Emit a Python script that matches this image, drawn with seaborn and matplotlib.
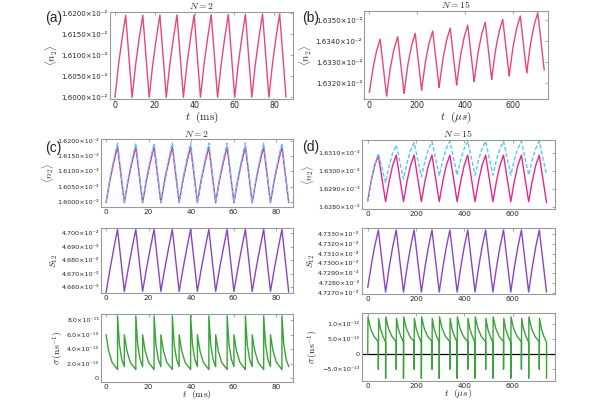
import matplotlib
matplotlib.use('Agg')
import matplotlib.pyplot as plt
import seaborn as sns

sns.set_style('white')
plt.rcParams['font.family'] = ['DejaVu Sans']
plt.rcParams['mathtext.fontset'] = 'cm'

## Data
# N = 2, time in ms; trough -> two rise points -> peak, per cycle
t_n2 = [0.0, 1.8, 3.6, 5.4,
        8.6, 10.4, 12.2, 14.0,
        17.2, 19.0, 20.8, 22.6,
        25.8, 27.6, 29.4, 31.2,
        34.4, 36.2, 38.0, 39.8,
        43.0, 44.8, 46.6, 48.4,
        51.6, 53.4, 55.2, 57.0,
        60.2, 62.0, 63.8, 65.6,
        68.8, 70.6, 72.4, 74.2,
        77.4, 79.2, 81.0, 82.8,
        86.0]
# <n2> in units of 1e-2
n2_a = [1.59998, 1.60781, 1.61407, 1.61955,
        1.59998, 1.60782, 1.61409, 1.61958,
        1.59999, 1.60784, 1.61412, 1.61962,
        1.60000, 1.60786, 1.61415, 1.61965,
        1.60001, 1.60788, 1.61417, 1.61968,
        1.60002, 1.60790, 1.61420, 1.61972,
        1.60002, 1.60792, 1.61423, 1.61976,
        1.60003, 1.60794, 1.61426, 1.61980,
        1.60004, 1.60796, 1.61430, 1.61985,
        1.60004, 1.60799, 1.61435, 1.61992,
        1.60005]
n2_c_solid = [1.59970, 1.60704, 1.61291, 1.61805,
              1.59970, 1.60704, 1.61291, 1.61805,
              1.59970, 1.60704, 1.61291, 1.61805,
              1.59970, 1.60704, 1.61291, 1.61805,
              1.59970, 1.60704, 1.61291, 1.61805,
              1.59970, 1.60704, 1.61291, 1.61805,
              1.59970, 1.60704, 1.61291, 1.61805,
              1.59970, 1.60704, 1.61291, 1.61805,
              1.59970, 1.60704, 1.61291, 1.61805,
              1.59970, 1.60704, 1.61291, 1.61805,
              1.59970]
n2_c_dash = [1.59990, 1.60764, 1.61383, 1.61925,
             1.59990, 1.60764, 1.61383, 1.61925,
             1.59990, 1.60764, 1.61383, 1.61925,
             1.59990, 1.60764, 1.61383, 1.61925,
             1.59990, 1.60764, 1.61383, 1.61925,
             1.59990, 1.60764, 1.61383, 1.61925,
             1.59990, 1.60764, 1.61383, 1.61925,
             1.59990, 1.60764, 1.61383, 1.61925,
             1.59990, 1.60764, 1.61383, 1.61925,
             1.59990, 1.60764, 1.61383, 1.61925,
             1.59990]
# S12 in units of 1e-2
s12_c = [4.6558, 4.6728, 4.6884, 4.7030,
         4.6567, 4.6734, 4.6886, 4.7030,
         4.6567, 4.6734, 4.6886, 4.7030,
         4.6567, 4.6734, 4.6886, 4.7030,
         4.6567, 4.6734, 4.6886, 4.7030,
         4.6567, 4.6734, 4.6886, 4.7030,
         4.6567, 4.6734, 4.6886, 4.7030,
         4.6567, 4.6734, 4.6886, 4.7030,
         4.6567, 4.6734, 4.6886, 4.7030,
         4.6567, 4.6734, 4.6886, 4.7030,
         4.6562]
# sigma (N = 2) in units of 1e-13 ns^-1
t_sig_c = [0.0, 1.2, 2.8, 5.4, 5.4, 6.3, 7.4,
           8.6, 8.6, 9.8, 11.4, 14.0, 14.0, 14.9, 16.0,
           17.2, 17.2, 18.4, 20.0, 22.6, 22.6, 23.5, 24.6,
           25.8, 25.8, 27.0, 28.6, 31.2, 31.2, 32.1, 33.2,
           34.4, 34.4, 35.6, 37.2, 39.8, 39.8, 40.7, 41.8,
           43.0, 43.0, 44.2, 45.8, 48.4, 48.4, 49.3, 50.4,
           51.6, 51.6, 52.8, 54.4, 57.0, 57.0, 57.9, 59.0,
           60.2, 60.2, 61.4, 63.0, 65.6, 65.6, 66.5, 67.6,
           68.8, 68.8, 70.0, 71.6, 74.2, 74.2, 75.1, 76.2,
           77.4, 77.4, 78.6, 80.2, 82.8, 82.8, 83.7, 84.8,
           86.0]
sig_c = [6.0, 3.8, 2.2, 1.2, 8.6, 4.6, 2.6,
         1.6, 6.0, 3.8, 2.2, 1.2, 8.6, 4.6, 2.6,
         1.6, 6.0, 3.8, 2.2, 1.2, 8.6, 4.6, 2.6,
         1.6, 6.0, 3.8, 2.2, 1.2, 8.6, 4.6, 2.6,
         1.6, 6.0, 3.8, 2.2, 1.2, 8.6, 4.6, 2.6,
         1.6, 6.0, 3.8, 2.2, 1.2, 8.6, 4.6, 2.6,
         1.6, 6.0, 3.8, 2.2, 1.2, 8.6, 4.6, 2.6,
         1.6, 6.0, 3.8, 2.2, 1.2, 8.6, 4.6, 2.6,
         1.6, 6.0, 3.8, 2.2, 1.2, 8.6, 4.6, 2.6,
         1.6, 6.0, 3.8, 2.2, 1.2, 8.6, 4.6, 2.6,
         1.6]

# N = 15, time in us  (panel b)
t_b = [0, 15, 30, 45, 70, 72,
       74, 88, 103, 118, 143, 145,
       147, 161, 176, 191, 216, 218,
       220, 234, 249, 264, 289, 291,
       293, 307, 322, 337, 362, 364,
       366, 380, 395, 410, 435, 437,
       439, 453, 468, 483, 508, 510,
       512, 526, 541, 556, 581, 583,
       585, 599, 614, 629, 654, 656,
       658, 672, 687, 702, 727, 729]
n2_b = [1.63157, 1.63270, 1.63354, 1.63409, 1.63158, 1.63140,
        1.63160, 1.63277, 1.63364, 1.63421, 1.63171, 1.63153,
        1.63173, 1.63292, 1.63379, 1.63437, 1.63186, 1.63168,
        1.63188, 1.63305, 1.63391, 1.63448, 1.63199, 1.63181,
        1.63201, 1.63318, 1.63405, 1.63462, 1.63210, 1.63192,
        1.63212, 1.63331, 1.63418, 1.63476, 1.63226, 1.63208,
        1.63228, 1.63346, 1.63432, 1.63490, 1.63237, 1.63219,
        1.63239, 1.63358, 1.63446, 1.63504, 1.63253, 1.63235,
        1.63255, 1.63374, 1.63461, 1.63519, 1.63268, 1.63250,
        1.63270, 1.63389, 1.63477, 1.63535, 1.63281, 1.63263]

# N = 15, time in us  (panel d)
t_n15 = [0, 15, 29, 44,
         74, 89, 103, 118,
         148, 163, 177, 192,
         222, 237, 251, 266,
         296, 311, 325, 340,
         370, 385, 399, 414,
         444, 459, 473, 488,
         518, 533, 547, 562,
         592, 607, 621, 636,
         666, 681, 695, 710,
         740]
n2_d_solid = [1.62832, 1.62949, 1.63033, 1.63088,
              1.62828, 1.62945, 1.63031, 1.63090,
              1.62828, 1.62945, 1.63031, 1.63090,
              1.62828, 1.62945, 1.63031, 1.63090,
              1.62828, 1.62945, 1.63031, 1.63090,
              1.62828, 1.62945, 1.63031, 1.63090,
              1.62828, 1.62945, 1.63031, 1.63090,
              1.62828, 1.62945, 1.63031, 1.63090,
              1.62828, 1.62945, 1.63031, 1.63090,
              1.62828, 1.62945, 1.63031, 1.63090,
              1.62822]
n2_d_dash = [1.62832, 1.62950, 1.63036, 1.63100,
             1.62935, 1.63030, 1.63100, 1.63147,
             1.62955, 1.63047, 1.63115, 1.63160,
             1.62968, 1.63057, 1.63122, 1.63166,
             1.62975, 1.63062, 1.63126, 1.63168,
             1.62978, 1.63064, 1.63126, 1.63168,
             1.62978, 1.63064, 1.63126, 1.63168,
             1.62978, 1.63064, 1.63126, 1.63168,
             1.62978, 1.63064, 1.63126, 1.63168,
             1.62978, 1.63064, 1.63126, 1.63168,
             1.62978]
s12_d = [4.72755, 4.72989, 4.73176, 4.73340,
         4.72710, 4.72962, 4.73164, 4.73340,
         4.72710, 4.72962, 4.73164, 4.73340,
         4.72710, 4.72962, 4.73164, 4.73340,
         4.72710, 4.72962, 4.73164, 4.73340,
         4.72710, 4.72962, 4.73164, 4.73340,
         4.72710, 4.72962, 4.73164, 4.73340,
         4.72710, 4.72962, 4.73164, 4.73340,
         4.72710, 4.72962, 4.73164, 4.73340,
         4.72710, 4.72962, 4.73164, 4.73340,
         4.72710]
t_sig_d = [0, 1, 12, 26, 44, 44, 45, 53, 63, 74, 74,
           75, 86, 100, 118, 118, 119, 127, 137, 148, 148,
           149, 160, 174, 192, 192, 193, 201, 211, 222, 222,
           223, 234, 248, 266, 266, 267, 275, 285, 296, 296,
           297, 308, 322, 340, 340, 341, 349, 359, 370, 370,
           371, 382, 396, 414, 414, 415, 423, 433, 444, 444,
           445, 456, 470, 488, 488, 489, 497, 507, 518, 518,
           519, 530, 544, 562, 562, 563, 571, 581, 592, 592,
           593, 604, 618, 636, 636, 637, 645, 655, 666, 666,
           667, 678, 692, 710, 710, 711, 719, 729, 740, 740]
sig_d = [0.0, 12.5, 8.6, 6.0, 4.2, -5.0, 12.0, 8.4, 6.0, 4.0, -8.0,
         12.5, 8.6, 6.0, 4.2, -5.0, 12.0, 8.4, 6.0, 4.0, -8.0,
         12.5, 8.6, 6.0, 4.2, -5.0, 12.0, 8.4, 6.0, 4.0, -8.0,
         12.5, 8.6, 6.0, 4.2, -5.0, 12.0, 8.4, 6.0, 4.0, -8.0,
         12.5, 8.6, 6.0, 4.2, -5.0, 12.0, 8.4, 6.0, 4.0, -8.0,
         12.5, 8.6, 6.0, 4.2, -5.0, 12.0, 8.4, 6.0, 4.0, -8.0,
         12.5, 8.6, 6.0, 4.2, -5.0, 12.0, 8.4, 6.0, 4.0, -8.0,
         12.5, 8.6, 6.0, 4.2, -5.0, 12.0, 8.4, 6.0, 4.0, -8.0,
         12.5, 8.6, 6.0, 4.2, -5.0, 12.0, 8.4, 6.0, 4.0, -8.0,
         12.5, 8.6, 6.0, 4.2, -5.0, 12.0, 8.4, 6.0, 4.0, -8.0]

# tick values / labels
n2_ticks_n2 = [1.6000, 1.6050, 1.6100, 1.6150, 1.6200]
n2_ticks_b = [1.6320, 1.6330, 1.6340, 1.6350]
n2_ticks_d = [1.6280, 1.6290, 1.6300, 1.6310]
s12_ticks_c = [4.660, 4.670, 4.680, 4.690, 4.700]
s12_ticks_d = [4.7270, 4.7280, 4.7290, 4.7300, 4.7310, 4.7320, 4.7330]
sig_ticks_c = [0, 2, 4, 6, 8]
sig_labels_c = ['0', '2.0×10⁻¹³', '4.0×10⁻¹³', '6.0×10⁻¹³', '8.0×10⁻¹³']
sig_ticks_d = [-5, 0, 5, 10]
sig_labels_d = ['−5.0×10⁻¹³', '0', '5.0×10⁻¹³', '1.0×10⁻¹²']
ms_ticks = [0, 20, 40, 60, 80]
us_ticks = [0, 200, 400, 600]

PINK = '#e8467c'
MAGENTA = '#e2288f'
CYAN = '#5cc6ef'
PURPLE = '#8a45c2'
GREEN = '#3aa33a'
SPINE = '#9a9a9a'


def style(ax, xlim, ylim, xticks, yticks, ylabels, fs=4.6):
    ax.set_xlim(*xlim)
    ax.set_ylim(*ylim)
    ax.set_xticks(xticks)
    ax.set_xticklabels([str(v) for v in xticks], fontsize=fs + 0.6)
    ax.set_yticks(yticks)
    ax.set_yticklabels(ylabels, fontsize=fs)
    ax.tick_params(direction='in', top=True, right=True, length=2,
                   width=0.6, color=SPINE, pad=1.5)
    for s in ax.spines.values():
        s.set_color(SPINE)
        s.set_linewidth(0.8)
    ax.set_xlabel('')
    ax.set_ylabel('')


def lab(ticks, fmt):
    return [fmt.format(v) + '×10⁻²' for v in ticks]


fig = plt.figure(figsize=(6, 4), dpi=100)

# (a)
ax = fig.add_axes([0.1833, 0.7525, 0.305, 0.2175])
sns.lineplot(x=t_n2, y=n2_a, ax=ax, color=PINK, lw=1.0, estimator=None, sort=False)
style(ax, (-2.5, 89.5), (1.5996, 1.62035), ms_ticks, n2_ticks_n2, lab(n2_ticks_n2, '{:.4f}'), fs=5.1)
ax.set_title(r'$N=2$', fontsize=7, pad=2)
ax.set_ylabel(r'$\langle n_2\rangle$', fontsize=7.5, labelpad=1)
ax.set_xlabel(r'$t\ \ (\mathrm{ms})$', fontsize=8, labelpad=0)

# (b)
ax = fig.add_axes([0.6072, 0.7525, 0.3067, 0.22])
sns.lineplot(x=t_b, y=n2_b, ax=ax, color=PINK, lw=1.0, estimator=None, sort=False)
style(ax, (-21, 746), (1.63126, 1.63543), us_ticks, n2_ticks_b, lab(n2_ticks_b, '{:.4f}'), fs=5.1)
ax.set_title(r'$N=15$', fontsize=7, pad=2)
ax.set_ylabel(r'$\langle n_2\rangle$', fontsize=7.5, labelpad=1)
ax.set_xlabel(r'$t\ \ (\mu s)$', fontsize=8, labelpad=0)

# (c) top
ax = fig.add_axes([0.1683, 0.4833, 0.32, 0.1685])
sns.lineplot(x=t_n2, y=n2_c_solid, ax=ax, color=MAGENTA, lw=1.0, estimator=None, sort=False)
sns.lineplot(x=t_n2, y=n2_c_dash, ax=ax, color=CYAN, lw=1.0, ls=(0, (3, 1.5)), estimator=None, sort=False)
style(ax, (-2.4, 88), (1.5984, 1.6205), ms_ticks, n2_ticks_n2, lab(n2_ticks_n2, '{:.4f}'))
ax.set_title(r'$N=2$', fontsize=7, pad=2)
ax.set_ylabel(r'$\langle n_2\rangle$', fontsize=7, labelpad=1)

# (c) middle
ax = fig.add_axes([0.1683, 0.2667, 0.32, 0.164])
sns.lineplot(x=t_n2, y=s12_c, ax=ax, color=PURPLE, lw=1.0, estimator=None, sort=False)
style(ax, (-2.4, 88), (4.6553, 4.7042), ms_ticks, s12_ticks_c, lab(s12_ticks_c, '{:.3f}'))
ax.set_ylabel(r'$S_{12}$', fontsize=7, labelpad=1)

# (c) bottom
ax = fig.add_axes([0.1683, 0.0458, 0.32, 0.169])
sns.lineplot(x=t_sig_c, y=sig_c, ax=ax, color=GREEN, lw=1.0, estimator=None, sort=False)
style(ax, (-2.4, 88), (-0.47, 8.85), ms_ticks, sig_ticks_c, sig_labels_c)
ax.set_ylabel(r'$\sigma\,(\mathrm{ns}^{-1})$', fontsize=7, labelpad=1)
ax.set_xlabel(r'$t\ \ (\mathrm{ms})$', fontsize=7, labelpad=-1)

# (d) top
ax = fig.add_axes([0.6028, 0.4767, 0.3222, 0.1733])
sns.lineplot(x=t_n15, y=n2_d_solid, ax=ax, color=MAGENTA, lw=1.0, estimator=None, sort=False)
sns.lineplot(x=t_n15, y=n2_d_dash, ax=ax, color=CYAN, lw=1.0, ls=(0, (3, 1.5)), estimator=None, sort=False)
style(ax, (-25, 775), (1.62785, 1.63175), us_ticks, n2_ticks_d, lab(n2_ticks_d, '{:.4f}'))
ax.set_title(r'$N=15$', fontsize=7, pad=2)
ax.set_ylabel(r'$\langle n_2\rangle$', fontsize=7, labelpad=1)

# (d) middle
ax = fig.add_axes([0.6028, 0.265, 0.3222, 0.165])
sns.lineplot(x=t_n15, y=s12_d, ax=ax, color=PURPLE, lw=1.0, estimator=None, sort=False)
style(ax, (-25, 775), (4.7269, 4.7336), us_ticks, s12_ticks_d, lab(s12_ticks_d, '{:.4f}'))
ax.set_ylabel(r'$S_{12}$', fontsize=7, labelpad=1)

# (d) bottom
ax = fig.add_axes([0.6028, 0.0483, 0.3222, 0.1685])
ax.axhline(0, color='black', lw=0.9)
sns.lineplot(x=t_sig_d, y=sig_d, ax=ax, color=GREEN, lw=1.0, estimator=None, sort=False)
style(ax, (-25, 775), (-8.8, 13.7), us_ticks, sig_ticks_d, sig_labels_d)
ax.set_ylabel(r'$\sigma\,(\mathrm{ns}^{-1})$', fontsize=7, labelpad=1)
ax.set_xlabel(r'$t\ \ (\mu s)$', fontsize=7, labelpad=-1)

# panel letters
for x, y, s in [(0.075, 0.955, '(a)'), (0.503, 0.955, '(b)'),
                (0.075, 0.63, '(c)'), (0.503, 0.633, '(d)')]:
    fig.text(x, y, s, fontsize=10, va='center', family='Liberation Sans')

fig.savefig('out.png', dpi=100)
